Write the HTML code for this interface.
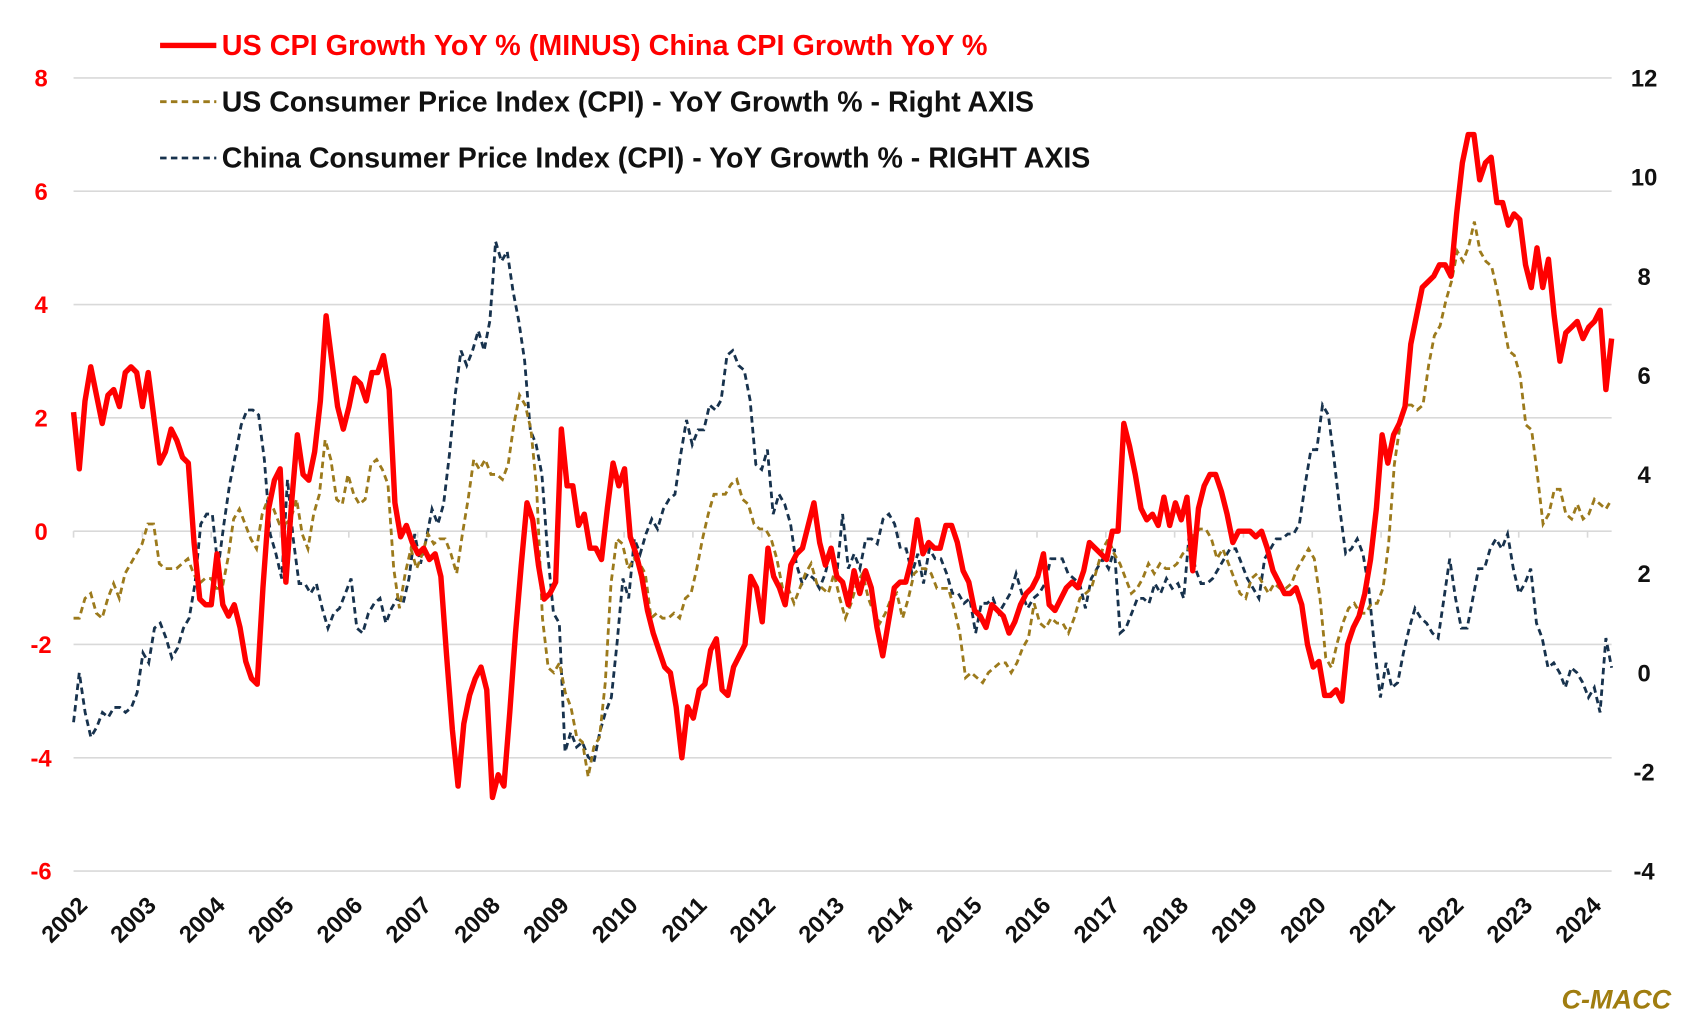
<!DOCTYPE html>
<html><head><meta charset="utf-8"><style>
html,body{margin:0;padding:0;background:#fff}
svg{display:block}
text{font-family:"Liberation Sans",sans-serif;font-weight:bold}
</style></head><body>
<svg id="c" width="1696" height="1029" viewBox="0 0 1568 951" preserveAspectRatio="none" xmlns="http://www.w3.org/2000/svg">
<g id="grid" stroke="#d9d9d9" stroke-width="1.5"></g>
<g id="lab"></g>
<path id="cn" fill="none" stroke="#17324d" stroke-width="2.6" stroke-dasharray="6,4"/>
<path id="us" fill="none" stroke="#9c7a1c" stroke-width="2.6" stroke-dasharray="6,4"/>
<path id="rd" fill="none" stroke="#ff0000" stroke-width="5" stroke-linejoin="round"/>
<line x1="148" y1="42" x2="200" y2="42" stroke="#ff0000" stroke-width="5"/>
<text x="205" y="51" font-size="26.4" fill="#ff0000" textLength="708" lengthAdjust="spacingAndGlyphs">US CPI Growth YoY % (MINUS) China CPI Growth YoY %</text>
<line x1="148" y1="94" x2="200" y2="94" stroke="#9c7a1c" stroke-width="2.6" stroke-dasharray="6,4"/>
<text x="205" y="103" font-size="26.4" fill="#111" textLength="751" lengthAdjust="spacingAndGlyphs">US Consumer Price Index (CPI) - YoY Growth % - Right AXIS</text>
<line x1="148" y1="146" x2="200" y2="146" stroke="#17324d" stroke-width="2.6" stroke-dasharray="6,4"/>
<text x="205" y="155" font-size="26.4" fill="#111" textLength="803" lengthAdjust="spacingAndGlyphs">China Consumer Price Index (CPI) - YoY Growth % - RIGHT AXIS</text>
<text x="1545" y="932" font-size="25" fill="#a07d10" font-style="italic" text-anchor="end">C-MACC</text>
</svg>
<script>
const X0=68,X1=1490;
const yl=v=>72+(8-v)*52.36, yr=v=>72+(12-v)*45.81;
const g=document.getElementById('grid'),lab=document.getElementById('lab');
let s='',l='';
for(let v=8;v>=-6;v-=2){const y=yl(v);s+=`<line x1="${X0}" x2="${X1}" y1="${y}" y2="${y}"/>`;
l+=`<text x="38" y="${y+8}" font-size="22" fill="#ff0000" text-anchor="middle">${v}</text>`;}
for(let v=12;v>=-4;v-=2){l+=`<text x="1520" y="${yr(v)+8}" font-size="22" fill="#111" text-anchor="middle">${v}</text>`;}
const ys=(X1-X0)/22.35;
for(let i=0;i<=22;i++){const x=X0+i*ys;s+=`<line x1="${x}" x2="${x}" y1="${yl(0)}" y2="${yl(0)+6}"/>`;
l+=`<text transform="translate(${x+14},${838}) rotate(-45)" font-size="22" fill="#111" text-anchor="end">${2002+i}</text>`;}
g.innerHTML=s;lab.innerHTML=l;
const red=[2.1,1.1,2.3,2.9,2.4,1.9,2.4,2.5,2.2,2.8,2.9,2.8,2.2,2.8,2.0,1.2,1.4,1.8,1.6,1.3,1.2,-0.2,-1.2,-1.3,-1.3,-0.4,-1.3,-1.5,-1.3,-1.7,-2.3,-2.6,-2.7,-1.0,0.4,0.9,1.1,-0.9,0.5,1.7,1.0,0.9,1.4,2.3,3.8,3.0,2.2,1.8,2.2,2.7,2.6,2.3,2.8,2.8,3.1,2.5,0.5,-0.1,0.1,-0.2,-0.4,-0.3,-0.5,-0.4,-0.8,-2.2,-3.5,-4.5,-3.4,-2.9,-2.6,-2.4,-2.8,-4.7,-4.3,-4.5,-3.2,-1.8,-0.6,0.5,0.2,-0.6,-1.2,-1.1,-0.9,1.8,0.8,0.8,0.1,0.3,-0.3,-0.3,-0.5,0.4,1.2,0.8,1.1,-0.1,-0.4,-0.8,-1.4,-1.8,-2.1,-2.4,-2.5,-3.1,-4.0,-3.1,-3.3,-2.8,-2.7,-2.1,-1.9,-2.8,-2.9,-2.4,-2.2,-2.0,-0.8,-1.0,-1.6,-0.3,-0.8,-1.0,-1.3,-0.6,-0.4,-0.3,0.1,0.5,-0.2,-0.6,-0.3,-0.8,-0.9,-1.3,-0.7,-1.1,-0.7,-1.0,-1.7,-2.2,-1.6,-1.0,-0.9,-0.9,-0.5,0.2,-0.4,-0.2,-0.3,-0.3,0.1,0.1,-0.2,-0.7,-0.9,-1.4,-1.5,-1.7,-1.3,-1.4,-1.5,-1.8,-1.6,-1.3,-1.1,-1.0,-0.8,-0.4,-1.3,-1.4,-1.2,-1.0,-0.9,-1.0,-0.7,-0.2,-0.3,-0.4,-0.5,0.0,0.0,1.9,1.5,1.0,0.4,0.2,0.3,0.1,0.6,0.1,0.5,0.2,0.6,-0.7,0.4,0.8,1.0,1.0,0.7,0.3,-0.2,0.0,0.0,0.0,-0.1,0.0,-0.3,-0.7,-0.9,-1.1,-1.1,-1.0,-1.3,-2.0,-2.4,-2.3,-2.9,-2.9,-2.8,-3.0,-2.0,-1.7,-1.5,-1.1,-0.5,0.4,1.7,1.2,1.7,1.9,2.2,3.3,3.8,4.3,4.4,4.5,4.7,4.7,4.5,5.6,6.5,7.0,7.0,6.2,6.5,6.6,5.8,5.8,5.4,5.6,5.5,4.7,4.3,5.0,4.3,4.8,3.8,3.0,3.5,3.6,3.7,3.4,3.6,3.7,3.9,2.5,3.4];
const us=[1.1,1.1,1.5,1.6,1.2,1.1,1.5,1.8,1.5,2.0,2.2,2.4,2.6,3.0,3.0,2.2,2.1,2.1,2.1,2.2,2.3,2.0,1.8,1.9,1.9,1.7,1.7,2.3,3.1,3.3,3.0,2.7,2.5,3.2,3.5,3.3,3.0,3.0,3.1,3.5,2.8,2.5,3.2,3.6,4.7,4.3,3.5,3.4,4.0,3.6,3.4,3.5,4.2,4.3,4.1,3.8,2.1,1.3,2.0,2.5,2.1,2.4,2.8,2.6,2.7,2.7,2.4,2.0,2.8,3.5,4.3,4.1,4.3,4.0,4.0,3.9,4.2,5.0,5.6,5.4,4.9,3.7,1.1,0.1,0.0,0.2,-0.4,-0.7,-1.3,-1.4,-2.1,-1.5,-1.3,-0.2,1.8,2.7,2.6,2.1,2.3,2.2,2.0,1.1,1.2,1.1,1.1,1.2,1.1,1.5,1.6,2.1,2.7,3.2,3.6,3.6,3.6,3.8,3.9,3.5,3.4,3.0,2.9,2.9,2.7,2.3,1.7,1.7,1.4,1.7,2.0,2.2,1.8,1.7,1.6,2.0,1.5,1.1,1.4,1.8,2.0,1.5,1.2,1.0,1.2,1.5,1.6,1.1,1.5,2.0,2.1,2.1,2.0,1.7,1.7,1.7,1.3,0.8,-0.1,0.0,-0.1,-0.2,0.0,0.1,0.2,0.2,0.0,0.2,0.5,0.7,1.4,1.0,0.9,1.1,1.0,1.0,0.8,1.1,1.5,1.6,1.7,2.1,2.5,2.7,2.4,2.2,1.9,1.6,1.7,1.9,2.2,2.0,2.2,2.1,2.1,2.2,2.4,2.5,2.8,2.9,2.9,2.7,2.3,2.5,2.2,1.9,1.6,1.5,1.9,2.0,1.8,1.6,1.8,1.7,1.7,1.8,2.1,2.3,2.5,2.3,1.5,0.3,0.1,0.6,1.0,1.3,1.4,1.2,1.2,1.4,1.4,1.7,2.6,4.2,5.0,5.4,5.4,5.3,5.4,6.2,6.8,7.0,7.5,7.9,8.5,8.3,8.6,9.1,8.5,8.3,8.2,7.7,7.1,6.5,6.4,6.0,5.0,4.9,4.0,3.0,3.2,3.7,3.7,3.2,3.1,3.4,3.1,3.2,3.5,3.4,3.3,3.5];
const cn=[-1.0,0.0,-0.8,-1.3,-1.1,-0.8,-0.9,-0.7,-0.7,-0.8,-0.7,-0.4,0.4,0.2,0.9,1.0,0.7,0.3,0.5,0.9,1.1,1.8,3.0,3.2,3.2,2.1,3.0,3.8,4.4,5.0,5.3,5.3,5.2,4.3,2.8,2.4,1.9,3.9,2.7,1.8,1.8,1.6,1.8,1.3,0.9,1.2,1.3,1.6,1.9,0.9,0.8,1.2,1.4,1.5,1.0,1.3,1.5,1.4,1.9,2.8,2.2,2.7,3.3,3.0,3.4,4.4,5.6,6.5,6.2,6.5,6.9,6.5,7.1,8.7,8.3,8.5,7.7,7.1,6.3,4.9,4.6,4.0,2.4,1.2,1.0,-1.6,-1.2,-1.5,-1.4,-1.7,-1.8,-1.2,-0.8,-0.5,0.6,1.9,1.5,2.7,2.4,2.8,3.1,2.9,3.3,3.5,3.6,4.4,5.1,4.6,4.9,4.9,5.4,5.3,5.5,6.4,6.5,6.2,6.1,5.5,4.2,4.1,4.5,3.2,3.6,3.4,3.0,2.2,1.8,2.0,1.9,1.7,2.0,2.5,2.0,3.2,2.1,2.4,2.1,2.7,2.7,2.6,3.1,3.2,3.0,2.5,2.5,2.0,2.4,1.8,2.5,2.3,2.3,2.0,1.6,1.6,1.4,1.5,0.8,1.4,1.4,1.5,1.2,1.4,1.6,2.0,1.6,1.3,1.5,1.6,1.8,2.3,2.3,2.3,2.0,1.9,1.8,1.3,1.9,2.1,2.3,2.1,2.5,0.8,0.9,1.2,1.5,1.5,1.4,1.8,1.6,1.9,1.7,1.8,1.5,2.9,2.1,1.8,1.8,1.9,2.1,2.3,2.5,2.5,2.2,1.9,1.7,1.5,2.3,2.5,2.7,2.7,2.8,2.8,3.0,3.8,4.5,4.5,5.4,5.2,4.3,3.3,2.4,2.5,2.7,2.4,1.7,0.5,-0.5,0.2,-0.3,-0.2,0.4,0.9,1.3,1.1,1.0,0.8,0.7,1.5,2.3,1.5,0.9,0.9,1.5,2.1,2.1,2.5,2.7,2.5,2.8,2.1,1.6,1.8,2.1,1.0,0.7,0.1,0.2,0.0,-0.3,0.1,0.0,-0.2,-0.5,-0.3,-0.8,0.7,0.1];
function path(a,f){const n=a.length;return a.map((v,i)=>(i?'L':'M')+(X0+i*(X1-X0)/(n-1)).toFixed(1)+','+f(v).toFixed(1)).join('');}
document.getElementById('rd').setAttribute('d',path(red,yl));
document.getElementById('us').setAttribute('d',path(us,yr));
document.getElementById('cn').setAttribute('d',path(cn,yr));
</script>
</body></html>
